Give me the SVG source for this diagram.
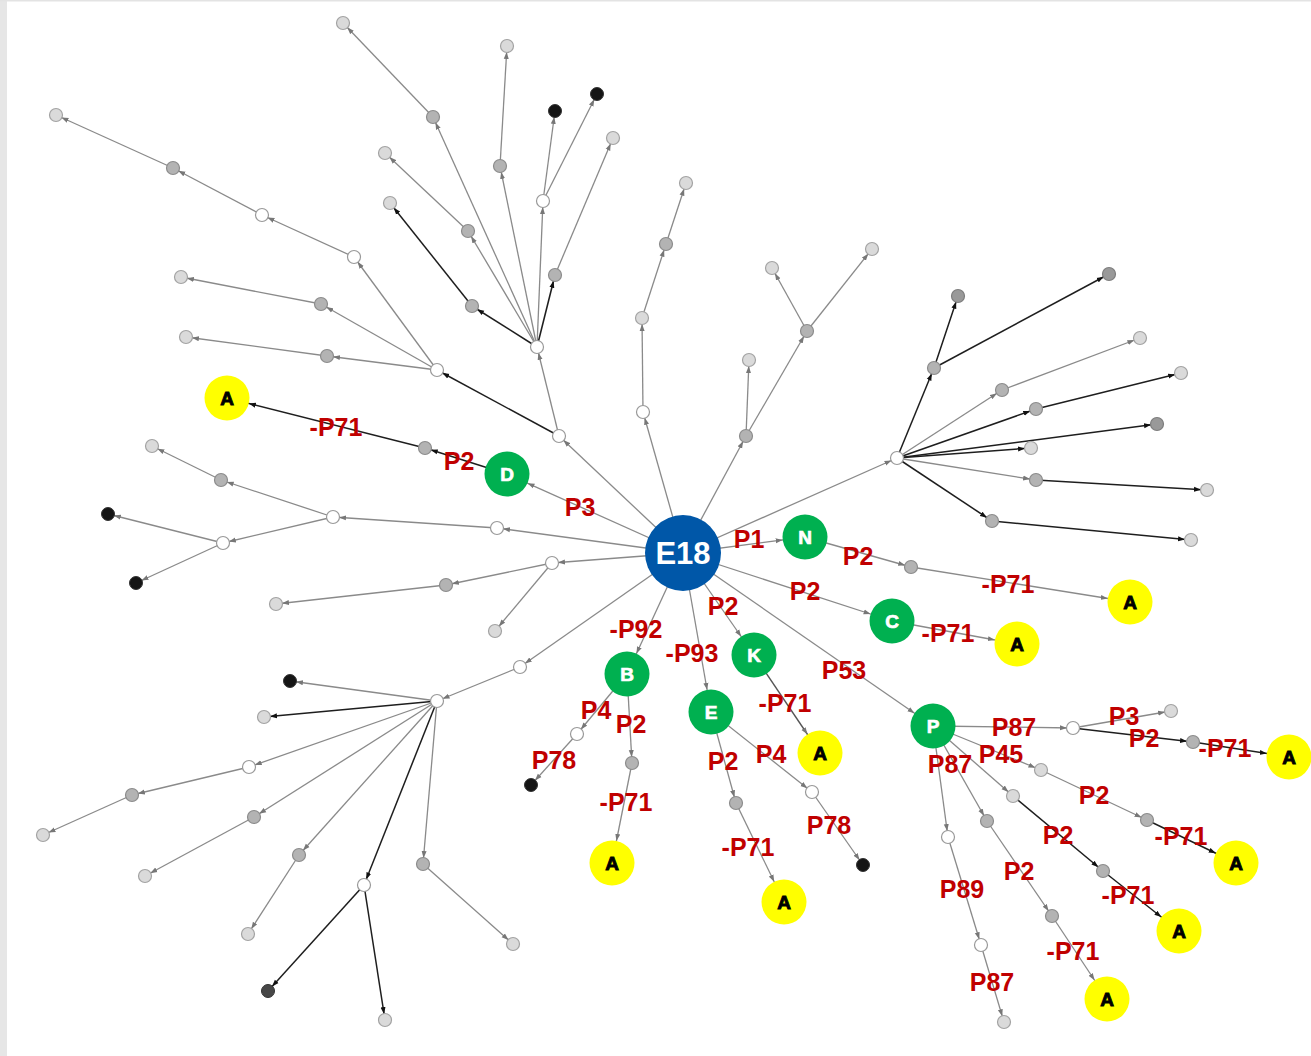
<svg xmlns="http://www.w3.org/2000/svg" width="1311" height="1056" viewBox="0 0 1311 1056">
<style>
  .g{stroke:#8a8a8a;stroke-width:1.3;fill:none}
  .k{stroke:#1e1e1e;stroke-width:1.5;fill:none}
  .d{stroke:#555;stroke-width:1.4;fill:none}
  circle.lt{fill:#dadada;stroke:#a3a3a3;stroke-width:1.2}
  circle.md{fill:#b3b3b3;stroke:#8c8c8c;stroke-width:1.2}
  circle.dk{fill:#999;stroke:#7d7d7d;stroke-width:1.2}
  circle.wh{fill:#fff;stroke:#999;stroke-width:1.2}
  circle.bl{fill:#151515;stroke:#333;stroke-width:1}
  circle.dg{fill:#474747;stroke:#333;stroke-width:1}
  circle.grn{fill:#00b050}
  circle.yel{fill:#ffff00}
  circle.hub{fill:#0057a8}
  .lb{font-family:"Liberation Sans",Arial,sans-serif;font-weight:bold;font-size:25px;fill:#c00000;text-anchor:middle}
  .gl{font-family:"Liberation Sans",Arial,sans-serif;font-weight:bold;font-size:19px;fill:#fff;stroke:#fff;stroke-width:0.7;text-anchor:middle}
  .al{font-family:"Liberation Sans",Arial,sans-serif;font-weight:bold;font-size:19px;fill:#000;stroke:#000;stroke-width:0.9;text-anchor:middle}
  .hl{font-family:"Liberation Sans",Arial,sans-serif;font-weight:bold;font-size:31px;fill:#fff;text-anchor:middle}
</style>
<defs>
  <marker id="sg" markerUnits="userSpaceOnUse" viewBox="0 0 7 6" markerWidth="7" markerHeight="6" refX="13" refY="3" orient="auto"><path d="M0,0.5 L7,3 L0,5.5 z" fill="#777"/></marker>
  <marker id="sk" markerUnits="userSpaceOnUse" viewBox="0 0 7 6" markerWidth="7" markerHeight="6" refX="13" refY="3" orient="auto"><path d="M0,0.5 L7,3 L0,5.5 z" fill="#111"/></marker>
  <marker id="bg" markerUnits="userSpaceOnUse" viewBox="0 0 7 6" markerWidth="7" markerHeight="6" refX="29.5" refY="3" orient="auto"><path d="M0,0.5 L7,3 L0,5.5 z" fill="#777"/></marker>
  <marker id="bk" markerUnits="userSpaceOnUse" viewBox="0 0 7 6" markerWidth="7" markerHeight="6" refX="29.5" refY="3" orient="auto"><path d="M0,0.5 L7,3 L0,5.5 z" fill="#111"/></marker>
</defs>

<!-- page background and frame -->
<rect x="0" y="0" width="1311" height="1056" fill="#fff"/>
<rect x="0" y="0" width="7" height="1056" fill="#e6e6e6"/>
<rect x="0" y="0" width="1311" height="1.5" fill="#e3e3e3"/>

<g id="connectors">
  <!-- hub edges -->
  <line class="g" x1="683" y1="553" x2="507" y2="474" marker-end="url(#bg)"/>
  <line class="g" x1="683" y1="553" x2="805" y2="537" marker-end="url(#bg)"/>
  <line class="g" x1="683" y1="553" x2="892" y2="621" marker-end="url(#bg)"/>
  <line class="g" x1="683" y1="553" x2="754" y2="655" marker-end="url(#bg)"/>
  <line class="g" x1="683" y1="553" x2="627" y2="674" marker-end="url(#bg)"/>
  <line class="g" x1="683" y1="553" x2="711" y2="712" marker-end="url(#bg)"/>
  <line class="g" x1="683" y1="553" x2="933" y2="726" marker-end="url(#bg)"/>
  <line class="g" x1="683" y1="553" x2="559" y2="436" marker-end="url(#sg)"/>
  <line class="g" x1="683" y1="553" x2="497" y2="528" marker-end="url(#sg)"/>
  <line class="g" x1="683" y1="553" x2="552" y2="563" marker-end="url(#sg)"/>
  <line class="g" x1="683" y1="553" x2="520" y2="667" marker-end="url(#sg)"/>
  <line class="g" x1="683" y1="553" x2="643" y2="412" marker-end="url(#sg)"/>
  <line class="g" x1="683" y1="553" x2="746" y2="436" marker-end="url(#sg)"/>
  <line class="g" x1="683" y1="553" x2="897" y2="458" marker-end="url(#sg)"/>

  <!-- upper left fan -->
  <line class="k" x1="559" y1="436" x2="437" y2="370" marker-end="url(#sk)"/>
  <line class="g" x1="559" y1="436" x2="537" y2="347" marker-end="url(#sg)"/>
  <line class="k" x1="537" y1="347" x2="472" y2="306" marker-end="url(#sk)"/>
  <line class="k" x1="472" y1="306" x2="390" y2="203" marker-end="url(#sk)"/>
  <line class="g" x1="537" y1="347" x2="468" y2="231" marker-end="url(#sg)"/>
  <line class="g" x1="468" y1="231" x2="385" y2="153" marker-end="url(#sg)"/>
  <line class="g" x1="537" y1="347" x2="433" y2="117" marker-end="url(#sg)"/>
  <line class="g" x1="433" y1="117" x2="343" y2="23" marker-end="url(#sg)"/>
  <line class="g" x1="537" y1="347" x2="500" y2="166" marker-end="url(#sg)"/>
  <line class="g" x1="500" y1="166" x2="507" y2="46" marker-end="url(#sg)"/>
  <line class="g" x1="537" y1="347" x2="543" y2="201" marker-end="url(#sg)"/>
  <line class="g" x1="543" y1="201" x2="555" y2="111" marker-end="url(#sg)"/>
  <line class="g" x1="543" y1="201" x2="597" y2="94" marker-end="url(#sg)"/>
  <line class="k" x1="537" y1="347" x2="555" y2="275" marker-end="url(#sk)"/>
  <line class="g" x1="555" y1="275" x2="613" y2="138" marker-end="url(#sg)"/>
  <line class="g" x1="437" y1="370" x2="321" y2="304" marker-end="url(#sg)"/>
  <line class="g" x1="321" y1="304" x2="181" y2="277" marker-end="url(#sg)"/>
  <line class="g" x1="437" y1="370" x2="327" y2="356" marker-end="url(#sg)"/>
  <line class="g" x1="327" y1="356" x2="186" y2="337" marker-end="url(#sg)"/>
  <line class="g" x1="437" y1="370" x2="354" y2="257" marker-end="url(#sg)"/>
  <line class="g" x1="354" y1="257" x2="262" y2="215" marker-end="url(#sg)"/>
  <line class="g" x1="262" y1="215" x2="173" y2="168" marker-end="url(#sg)"/>
  <line class="g" x1="173" y1="168" x2="56" y2="115" marker-end="url(#sg)"/>

  <!-- left branches -->
  <line class="g" x1="497" y1="528" x2="333" y2="517" marker-end="url(#sg)"/>
  <line class="g" x1="333" y1="517" x2="221" y2="480" marker-end="url(#sg)"/>
  <line class="g" x1="221" y1="480" x2="152" y2="446" marker-end="url(#sg)"/>
  <line class="g" x1="333" y1="517" x2="223" y2="543" marker-end="url(#sg)"/>
  <line class="g" x1="223" y1="543" x2="108" y2="514" marker-end="url(#sg)"/>
  <line class="g" x1="223" y1="543" x2="136" y2="583" marker-end="url(#sg)"/>
  <line class="g" x1="552" y1="563" x2="446" y2="585" marker-end="url(#sg)"/>
  <line class="g" x1="446" y1="585" x2="276" y2="604" marker-end="url(#sg)"/>
  <line class="g" x1="552" y1="563" x2="495" y2="631" marker-end="url(#sg)"/>

  <!-- lower left fan -->
  <line class="g" x1="520" y1="667" x2="437" y2="701" marker-end="url(#sg)"/>
  <line class="g" x1="437" y1="701" x2="290" y2="681" marker-end="url(#sg)"/>
  <line class="k" x1="437" y1="701" x2="264" y2="717" marker-end="url(#sk)"/>
  <line class="g" x1="437" y1="701" x2="249" y2="767" marker-end="url(#sg)"/>
  <line class="g" x1="249" y1="767" x2="132" y2="795" marker-end="url(#sg)"/>
  <line class="g" x1="132" y1="795" x2="43" y2="835" marker-end="url(#sg)"/>
  <line class="g" x1="437" y1="701" x2="254" y2="817" marker-end="url(#sg)"/>
  <line class="g" x1="254" y1="817" x2="145" y2="876" marker-end="url(#sg)"/>
  <line class="g" x1="437" y1="701" x2="299" y2="855" marker-end="url(#sg)"/>
  <line class="g" x1="299" y1="855" x2="248" y2="934" marker-end="url(#sg)"/>
  <line class="k" x1="437" y1="701" x2="364" y2="885" marker-end="url(#sk)"/>
  <line class="k" x1="364" y1="885" x2="268" y2="991" marker-end="url(#sk)"/>
  <line class="k" x1="364" y1="885" x2="385" y2="1020" marker-end="url(#sk)"/>
  <line class="g" x1="437" y1="701" x2="423" y2="864" marker-end="url(#sg)"/>
  <line class="g" x1="423" y1="864" x2="513" y2="944" marker-end="url(#sg)"/>

  <!-- upper middle -->
  <line class="g" x1="643" y1="412" x2="642" y2="318" marker-end="url(#sg)"/>
  <line class="g" x1="642" y1="318" x2="666" y2="244" marker-end="url(#sg)"/>
  <line class="g" x1="666" y1="244" x2="686" y2="183" marker-end="url(#sg)"/>
  <line class="g" x1="746" y1="436" x2="749" y2="360" marker-end="url(#sg)"/>
  <line class="g" x1="746" y1="436" x2="807" y2="331" marker-end="url(#sg)"/>
  <line class="g" x1="807" y1="331" x2="772" y2="268" marker-end="url(#sg)"/>
  <line class="g" x1="807" y1="331" x2="872" y2="249" marker-end="url(#sg)"/>

  <!-- right fan -->
  <line class="k" x1="897" y1="458" x2="934" y2="368" marker-end="url(#sk)"/>
  <line class="k" x1="934" y1="368" x2="958" y2="296" marker-end="url(#sk)"/>
  <line class="k" x1="934" y1="368" x2="1109" y2="274" marker-end="url(#sk)"/>
  <line class="g" x1="897" y1="458" x2="1002" y2="390" marker-end="url(#sg)"/>
  <line class="g" x1="1002" y1="390" x2="1140" y2="338" marker-end="url(#sg)"/>
  <line class="k" x1="897" y1="458" x2="1036" y2="409" marker-end="url(#sk)"/>
  <line class="k" x1="1036" y1="409" x2="1181" y2="373" marker-end="url(#sk)"/>
  <line class="k" x1="897" y1="458" x2="1157" y2="424" marker-end="url(#sk)"/>
  <line class="k" x1="897" y1="458" x2="1031" y2="448" marker-end="url(#sk)"/>
  <line class="g" x1="897" y1="458" x2="1036" y2="480" marker-end="url(#sg)"/>
  <line class="k" x1="1036" y1="480" x2="1207" y2="490" marker-end="url(#sk)"/>
  <line class="k" x1="897" y1="458" x2="992" y2="521" marker-end="url(#sk)"/>
  <line class="k" x1="992" y1="521" x2="1191" y2="540" marker-end="url(#sk)"/>

  <!-- labelled paths -->
  <line class="k" x1="507" y1="474" x2="425" y2="448" marker-end="url(#sk)"/>
  <line class="k" x1="425" y1="448" x2="227" y2="398" marker-end="url(#bk)"/>
  <line class="g" x1="805" y1="537" x2="911" y2="567" marker-end="url(#sg)"/>
  <line class="g" x1="911" y1="567" x2="1130" y2="602" marker-end="url(#bg)"/>
  <line class="g" x1="892" y1="621" x2="1017" y2="644" marker-end="url(#bg)"/>
  <line class="d" x1="754" y1="655" x2="820" y2="753" marker-end="url(#bg)"/>
  <line class="g" x1="627" y1="674" x2="577" y2="734" marker-end="url(#sg)"/>
  <line class="g" x1="577" y1="734" x2="531" y2="785" marker-end="url(#sg)"/>
  <line class="g" x1="627" y1="674" x2="632" y2="763" marker-end="url(#sg)"/>
  <line class="g" x1="632" y1="763" x2="612" y2="863" marker-end="url(#bg)"/>
  <line class="g" x1="711" y1="712" x2="736" y2="803" marker-end="url(#sg)"/>
  <line class="g" x1="736" y1="803" x2="784" y2="902" marker-end="url(#bg)"/>
  <line class="g" x1="711" y1="712" x2="812" y2="792" marker-end="url(#sg)"/>
  <line class="g" x1="812" y1="792" x2="863" y2="865" marker-end="url(#sg)"/>
  <line class="g" x1="933" y1="726" x2="1073" y2="728" marker-end="url(#sg)"/>
  <line class="g" x1="1073" y1="728" x2="1171" y2="711" marker-end="url(#sg)"/>
  <line class="k" x1="1073" y1="728" x2="1193" y2="742" marker-end="url(#sk)"/>
  <line class="k" x1="1193" y1="742" x2="1289" y2="757" marker-end="url(#bk)"/>
  <line class="g" x1="933" y1="726" x2="1041" y2="770" marker-end="url(#sg)"/>
  <line class="g" x1="1041" y1="770" x2="1147" y2="820" marker-end="url(#sg)"/>
  <line class="k" x1="1147" y1="820" x2="1236" y2="863" marker-end="url(#bk)"/>
  <line class="g" x1="933" y1="726" x2="1013" y2="796" marker-end="url(#sg)"/>
  <line class="k" x1="1013" y1="796" x2="1103" y2="871" marker-end="url(#sk)"/>
  <line class="k" x1="1103" y1="871" x2="1179" y2="931" marker-end="url(#bk)"/>
  <line class="g" x1="933" y1="726" x2="987" y2="821" marker-end="url(#sg)"/>
  <line class="g" x1="987" y1="821" x2="1052" y2="916" marker-end="url(#sg)"/>
  <line class="g" x1="1052" y1="916" x2="1107" y2="999" marker-end="url(#bg)"/>
  <line class="g" x1="933" y1="726" x2="948" y2="837" marker-end="url(#sg)"/>
  <line class="g" x1="948" y1="837" x2="981" y2="945" marker-end="url(#sg)"/>
  <line class="g" x1="981" y1="945" x2="1004" y2="1022" marker-end="url(#sg)"/>

  <!-- edge labels -->
  <text class="lb" x="580" y="516">P3</text>
  <text class="lb" x="459" y="470">P2</text>
  <text class="lb" x="336" y="436">-P71</text>
  <text class="lb" x="749" y="548">P1</text>
  <text class="lb" x="858" y="565">P2</text>
  <text class="lb" x="1008" y="593">-P71</text>
  <text class="lb" x="805" y="600">P2</text>
  <text class="lb" x="948" y="642">-P71</text>
  <text class="lb" x="723" y="615">P2</text>
  <text class="lb" x="785" y="712">-P71</text>
  <text class="lb" x="636" y="638">-P92</text>
  <text class="lb" x="692" y="662">-P93</text>
  <text class="lb" x="844" y="679">P53</text>
  <text class="lb" x="596" y="719">P4</text>
  <text class="lb" x="631" y="733">P2</text>
  <text class="lb" x="554" y="769">P78</text>
  <text class="lb" x="626" y="811">-P71</text>
  <text class="lb" x="723" y="770">P2</text>
  <text class="lb" x="771" y="763">P4</text>
  <text class="lb" x="748" y="856">-P71</text>
  <text class="lb" x="829" y="834">P78</text>
  <text class="lb" x="1014" y="736">P87</text>
  <text class="lb" x="1124" y="725">P3</text>
  <text class="lb" x="1144" y="747">P2</text>
  <text class="lb" x="1225" y="757">-P71</text>
  <text class="lb" x="1001" y="763">P45</text>
  <text class="lb" x="950" y="773">P87</text>
  <text class="lb" x="1094" y="804">P2</text>
  <text class="lb" x="1181" y="845">-P71</text>
  <text class="lb" x="1058" y="844">P2</text>
  <text class="lb" x="1128" y="904">-P71</text>
  <text class="lb" x="1019" y="880">P2</text>
  <text class="lb" x="1073" y="960">-P71</text>
  <text class="lb" x="962" y="898">P89</text>
  <text class="lb" x="992" y="991">P87</text>
</g>

<!-- hub -->
<g id="node-e18"><circle class="hub" cx="683" cy="553" r="38"/><text class="hl" x="683" y="564">E18</text></g>

<!-- lettered nodes -->
<g id="node-n"><circle class="grn" cx="805" cy="537" r="22.5"/><text class="gl" x="805" y="544">N</text></g>
<g id="node-c"><circle class="grn" cx="892" cy="621" r="22.5"/><text class="gl" x="892" y="628">C</text></g>
<g id="node-k"><circle class="grn" cx="754" cy="655" r="22.5"/><text class="gl" x="754" y="662">K</text></g>
<g id="node-b"><circle class="grn" cx="627" cy="674" r="22.5"/><text class="gl" x="627" y="681">B</text></g>
<g id="node-e"><circle class="grn" cx="711" cy="712" r="22.5"/><text class="gl" x="711" y="719">E</text></g>
<g id="node-d"><circle class="grn" cx="507" cy="474" r="22.5"/><text class="gl" x="507" y="481">D</text></g>
<g id="node-p"><circle class="grn" cx="933" cy="726" r="22.5"/><text class="gl" x="933" y="733">P</text></g>

<g id="node-a1"><circle class="yel" cx="227" cy="398" r="22.5"/><text class="al" x="227" y="405">A</text></g>
<g id="node-a2"><circle class="yel" cx="1130" cy="602" r="22.5"/><text class="al" x="1130" y="609">A</text></g>
<g id="node-a3"><circle class="yel" cx="1017" cy="644" r="22.5"/><text class="al" x="1017" y="651">A</text></g>
<g id="node-a4"><circle class="yel" cx="820" cy="753" r="22.5"/><text class="al" x="820" y="760">A</text></g>
<g id="node-a5"><circle class="yel" cx="612" cy="863" r="22.5"/><text class="al" x="612" y="870">A</text></g>
<g id="node-a6"><circle class="yel" cx="784" cy="902" r="22.5"/><text class="al" x="784" y="909">A</text></g>
<g id="node-a7"><circle class="yel" cx="1289" cy="757" r="22.5"/><text class="al" x="1289" y="764">A</text></g>
<g id="node-a8"><circle class="yel" cx="1236" cy="863" r="22.5"/><text class="al" x="1236" y="870">A</text></g>
<g id="node-a9"><circle class="yel" cx="1179" cy="931" r="22.5"/><text class="al" x="1179" y="938">A</text></g>
<g id="node-a10"><circle class="yel" cx="1107" cy="999" r="22.5"/><text class="al" x="1107" y="1006">A</text></g>

<!-- small nodes: upper left -->
<g id="node-t1"><circle class="wh" cx="559" cy="436" r="6.5"/></g>
<g id="node-t2"><circle class="wh" cx="537" cy="347" r="6.5"/></g>
<g id="node-t3"><circle class="md" cx="472" cy="306" r="6.5"/></g>
<g id="node-t4"><circle class="lt" cx="390" cy="203" r="6.5"/></g>
<g id="node-t5"><circle class="md" cx="468" cy="231" r="6.5"/></g>
<g id="node-t6"><circle class="lt" cx="385" cy="153" r="6.5"/></g>
<g id="node-t7"><circle class="md" cx="433" cy="117" r="6.5"/></g>
<g id="node-t8"><circle class="lt" cx="343" cy="23" r="6.5"/></g>
<g id="node-t9"><circle class="md" cx="500" cy="166" r="6.5"/></g>
<g id="node-t10"><circle class="lt" cx="507" cy="46" r="6.5"/></g>
<g id="node-t11"><circle class="wh" cx="543" cy="201" r="6.5"/></g>
<g id="node-t12"><circle class="bl" cx="555" cy="111" r="6.5"/></g>
<g id="node-t13"><circle class="bl" cx="597" cy="94" r="6.5"/></g>
<g id="node-t14"><circle class="md" cx="555" cy="275" r="6.5"/></g>
<g id="node-t15"><circle class="lt" cx="613" cy="138" r="6.5"/></g>
<g id="node-l1"><circle class="wh" cx="437" cy="370" r="6.5"/></g>
<g id="node-l2"><circle class="md" cx="321" cy="304" r="6.5"/></g>
<g id="node-l3"><circle class="lt" cx="181" cy="277" r="6.5"/></g>
<g id="node-l4"><circle class="md" cx="327" cy="356" r="6.5"/></g>
<g id="node-l5"><circle class="lt" cx="186" cy="337" r="6.5"/></g>
<g id="node-l6"><circle class="wh" cx="354" cy="257" r="6.5"/></g>
<g id="node-l7"><circle class="wh" cx="262" cy="215" r="6.5"/></g>
<g id="node-l8"><circle class="md" cx="173" cy="168" r="6.5"/></g>
<g id="node-l9"><circle class="lt" cx="56" cy="115" r="6.5"/></g>

<!-- small nodes: left -->
<g id="node-m1"><circle class="wh" cx="497" cy="528" r="6.5"/></g>
<g id="node-m2"><circle class="wh" cx="333" cy="517" r="6.5"/></g>
<g id="node-m3"><circle class="md" cx="221" cy="480" r="6.5"/></g>
<g id="node-m4"><circle class="lt" cx="152" cy="446" r="6.5"/></g>
<g id="node-m5"><circle class="wh" cx="223" cy="543" r="6.5"/></g>
<g id="node-m6"><circle class="bl" cx="108" cy="514" r="6.5"/></g>
<g id="node-m7"><circle class="bl" cx="136" cy="583" r="6.5"/></g>
<g id="node-m8"><circle class="wh" cx="552" cy="563" r="6.5"/></g>
<g id="node-m9"><circle class="md" cx="446" cy="585" r="6.5"/></g>
<g id="node-m10"><circle class="lt" cx="276" cy="604" r="6.5"/></g>
<g id="node-m11"><circle class="lt" cx="495" cy="631" r="6.5"/></g>

<!-- small nodes: lower left -->
<g id="node-s1"><circle class="wh" cx="520" cy="667" r="6.5"/></g>
<g id="node-s2"><circle class="wh" cx="437" cy="701" r="6.5"/></g>
<g id="node-s3"><circle class="bl" cx="290" cy="681" r="6.5"/></g>
<g id="node-s4"><circle class="lt" cx="264" cy="717" r="6.5"/></g>
<g id="node-s5"><circle class="wh" cx="249" cy="767" r="6.5"/></g>
<g id="node-s6"><circle class="md" cx="132" cy="795" r="6.5"/></g>
<g id="node-s7"><circle class="lt" cx="43" cy="835" r="6.5"/></g>
<g id="node-s8"><circle class="md" cx="254" cy="817" r="6.5"/></g>
<g id="node-s9"><circle class="lt" cx="145" cy="876" r="6.5"/></g>
<g id="node-s10"><circle class="md" cx="299" cy="855" r="6.5"/></g>
<g id="node-s11"><circle class="lt" cx="248" cy="934" r="6.5"/></g>
<g id="node-s12"><circle class="wh" cx="364" cy="885" r="6.5"/></g>
<g id="node-s13"><circle class="dg" cx="268" cy="991" r="6.5"/></g>
<g id="node-s14"><circle class="lt" cx="385" cy="1020" r="6.5"/></g>
<g id="node-s15"><circle class="md" cx="423" cy="864" r="6.5"/></g>
<g id="node-s16"><circle class="lt" cx="513" cy="944" r="6.5"/></g>

<!-- small nodes: upper middle -->
<g id="node-u1"><circle class="wh" cx="643" cy="412" r="6.5"/></g>
<g id="node-u2"><circle class="lt" cx="642" cy="318" r="6.5"/></g>
<g id="node-u3"><circle class="md" cx="666" cy="244" r="6.5"/></g>
<g id="node-u4"><circle class="lt" cx="686" cy="183" r="6.5"/></g>
<g id="node-v1"><circle class="md" cx="746" cy="436" r="6.5"/></g>
<g id="node-v2"><circle class="lt" cx="749" cy="360" r="6.5"/></g>
<g id="node-v3"><circle class="md" cx="807" cy="331" r="6.5"/></g>
<g id="node-v4"><circle class="lt" cx="772" cy="268" r="6.5"/></g>
<g id="node-v5"><circle class="lt" cx="872" cy="249" r="6.5"/></g>

<!-- small nodes: right -->
<g id="node-r0"><circle class="wh" cx="897" cy="458" r="6.5"/></g>
<g id="node-r1"><circle class="md" cx="934" cy="368" r="6.5"/></g>
<g id="node-r2"><circle class="dk" cx="958" cy="296" r="6.5"/></g>
<g id="node-r3"><circle class="dk" cx="1109" cy="274" r="6.5"/></g>
<g id="node-r4"><circle class="md" cx="1002" cy="390" r="6.5"/></g>
<g id="node-r5"><circle class="lt" cx="1140" cy="338" r="6.5"/></g>
<g id="node-r6"><circle class="md" cx="1036" cy="409" r="6.5"/></g>
<g id="node-r7"><circle class="lt" cx="1181" cy="373" r="6.5"/></g>
<g id="node-r8"><circle class="dk" cx="1157" cy="424" r="6.5"/></g>
<g id="node-r9"><circle class="lt" cx="1031" cy="448" r="6.5"/></g>
<g id="node-r10"><circle class="md" cx="1036" cy="480" r="6.5"/></g>
<g id="node-r11"><circle class="lt" cx="1207" cy="490" r="6.5"/></g>
<g id="node-r12"><circle class="md" cx="992" cy="521" r="6.5"/></g>
<g id="node-r13"><circle class="lt" cx="1191" cy="540" r="6.5"/></g>

<!-- small nodes on labelled paths -->
<g id="node-x1"><circle class="md" cx="425" cy="448" r="6.5"/></g>
<g id="node-x2"><circle class="md" cx="911" cy="567" r="6.5"/></g>
<g id="node-x3"><circle class="wh" cx="577" cy="734" r="6.5"/></g>
<g id="node-x4"><circle class="bl" cx="531" cy="785" r="6.5"/></g>
<g id="node-x5"><circle class="md" cx="632" cy="763" r="6.5"/></g>
<g id="node-x6"><circle class="md" cx="736" cy="803" r="6.5"/></g>
<g id="node-x7"><circle class="wh" cx="812" cy="792" r="6.5"/></g>
<g id="node-x8"><circle class="bl" cx="863" cy="865" r="6.5"/></g>
<g id="node-x9"><circle class="wh" cx="1073" cy="728" r="6.5"/></g>
<g id="node-x10"><circle class="lt" cx="1171" cy="711" r="6.5"/></g>
<g id="node-x11"><circle class="md" cx="1193" cy="742" r="6.5"/></g>
<g id="node-x12"><circle class="lt" cx="1041" cy="770" r="6.5"/></g>
<g id="node-x13"><circle class="md" cx="1147" cy="820" r="6.5"/></g>
<g id="node-x14"><circle class="lt" cx="1013" cy="796" r="6.5"/></g>
<g id="node-x15"><circle class="md" cx="1103" cy="871" r="6.5"/></g>
<g id="node-x16"><circle class="md" cx="987" cy="821" r="6.5"/></g>
<g id="node-x17"><circle class="md" cx="1052" cy="916" r="6.5"/></g>
<g id="node-x18"><circle class="wh" cx="948" cy="837" r="6.5"/></g>
<g id="node-x19"><circle class="wh" cx="981" cy="945" r="6.5"/></g>
<g id="node-x20"><circle class="lt" cx="1004" cy="1022" r="6.5"/></g>
</svg>
